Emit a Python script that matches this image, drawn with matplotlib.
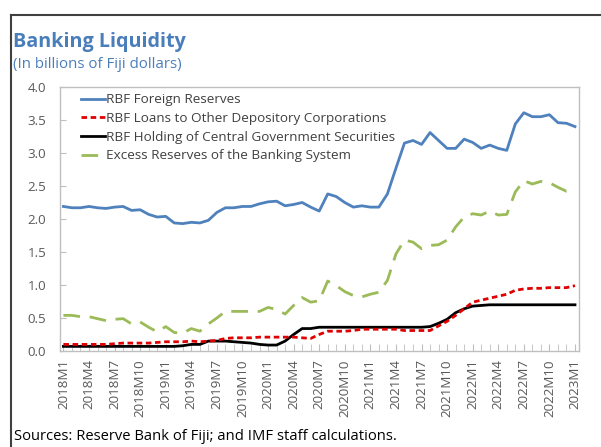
import matplotlib
matplotlib.use("Agg")
import matplotlib.pyplot as plt
from matplotlib.lines import Line2D

plt.rcParams['font.family'] = ['Open Sans', 'DejaVu Sans']

# ---- data ----
months = [f"{y}M{m}" for y in range(2018, 2023) for m in range(1, 13)] + ["2023M1"]

foreign_reserves = [2.19, 2.17, 2.17, 2.19, 2.17, 2.16, 2.18, 2.19, 2.13, 2.14,
                    2.07, 2.03, 2.04, 1.94, 1.93, 1.95, 1.94, 1.98, 2.10, 2.17,
                    2.17, 2.19, 2.19, 2.23, 2.26, 2.27, 2.20, 2.22, 2.25, 2.18,
                    2.12, 2.38, 2.34, 2.25, 2.18, 2.20, 2.18, 2.18, 2.38, 2.77,
                    3.15, 3.19, 3.13, 3.31, 3.19, 3.07, 3.07, 3.21, 3.16, 3.07,
                    3.12, 3.07, 3.04, 3.44, 3.61, 3.55, 3.55, 3.58, 3.46, 3.45,
                    3.40]

loans_odc = [0.10, 0.10, 0.10, 0.10, 0.10, 0.10, 0.11, 0.12, 0.12, 0.12,
             0.12, 0.13, 0.14, 0.14, 0.14, 0.15, 0.14, 0.15, 0.16, 0.19,
             0.20, 0.20, 0.20, 0.21, 0.21, 0.21, 0.21, 0.21, 0.20, 0.19,
             0.25, 0.30, 0.30, 0.30, 0.31, 0.33, 0.33, 0.33, 0.33, 0.33,
             0.31, 0.31, 0.31, 0.31, 0.38, 0.45, 0.54, 0.64, 0.74, 0.77,
             0.80, 0.83, 0.86, 0.92, 0.94, 0.95, 0.95, 0.96, 0.96, 0.96,
             0.99]

gov_securities = [0.07, 0.07, 0.07, 0.07, 0.07, 0.07, 0.07, 0.07, 0.07, 0.07,
                  0.07, 0.07, 0.07, 0.07, 0.08, 0.10, 0.10, 0.15, 0.15, 0.15,
                  0.14, 0.13, 0.12, 0.10, 0.09, 0.09, 0.15, 0.25, 0.34, 0.34,
                  0.36, 0.36, 0.36, 0.36, 0.36, 0.36, 0.36, 0.36, 0.36, 0.36,
                  0.36, 0.36, 0.36, 0.37, 0.42, 0.48, 0.58, 0.64, 0.68, 0.69,
                  0.70, 0.70, 0.70, 0.70, 0.70, 0.70, 0.70, 0.70, 0.70, 0.70,
                  0.70]

excess_reserves = [0.54, 0.54, 0.52, 0.52, 0.49, 0.46, 0.48, 0.49, 0.41, 0.44,
                   0.36, 0.29, 0.37, 0.28, 0.27, 0.34, 0.30, 0.41, 0.50, 0.60,
                   0.60, 0.60, 0.60, 0.60, 0.66, 0.63, 0.56, 0.69, 0.81, 0.74,
                   0.76, 1.06, 0.99, 0.90, 0.84, 0.82, 0.86, 0.89, 1.07, 1.47,
                   1.68, 1.65, 1.55, 1.60, 1.61, 1.68, 1.88, 2.03, 2.08, 2.06,
                   2.12, 2.06, 2.07, 2.41, 2.58, 2.53, 2.57, 2.55, 2.48, 2.42,
                   2.44]

series_names = ["RBF Foreign Reserves",
                "RBF Loans to Other Depository Corporations",
                "RBF Holding of Central Government Securities",
                "Excess Reserves of the Banking System"]

y_ticks = [0.0, 0.5, 1.0, 1.5, 2.0, 2.5, 3.0, 3.5, 4.0]

# ---- figure ----
W, H = 601, 447
fig = plt.figure(figsize=(W / 100, H / 100), dpi=100)

def fx(px):
    return px / W

def fy(py):
    return 1 - py / H

ax_l, ax_r, ax_t, ax_b = 60, 579, 87, 351
ax = fig.add_axes([fx(ax_l), fy(ax_b), fx(ax_r - ax_l), (ax_b - ax_t) / H])

x = list(range(len(months)))
blue = "#4F81BD"
red = "#E00000"
green = "#9BBB59"

ax.plot(x, foreign_reserves, color=blue, lw=2.0, solid_joinstyle='round')
ax.plot(x, excess_reserves, color=green, lw=2.0, dashes=(6, 3.5))
ax.plot(x, gov_securities, color="black", lw=2.0, solid_joinstyle='round')
ax.plot(x, loans_odc, color=red, lw=2.0, dashes=(2, 1.3))

ax.set_xlim(-0.4, 60.47)
ax.set_ylim(0, 4.0)
ax.set_yticks(y_ticks)
ax.set_yticklabels([f"{v:.1f}" for v in y_ticks])
ax.set_xticks(x, minor=True)
ax.set_xticks(x[::3])
ax.set_xticklabels(months[::3], rotation=90)

tick_color = "#595959"
ax.tick_params(axis='y', direction='in', length=4, color="#BFBFBF",
               labelsize=9.6, labelcolor=tick_color, pad=10)
ax.tick_params(axis='x', which='both', direction='in', length=5, color="#BFBFBF",
               labelsize=9.6, labelcolor=tick_color, pad=6)
for s in ax.spines.values():
    s.set_color("#BFBFBF")
    s.set_linewidth(1.0)

handles = [Line2D([], [], color=blue, lw=2.0),
           Line2D([], [], color=red, lw=2.0, dashes=(2, 1.3)),
           Line2D([], [], color="black", lw=2.0),
           Line2D([], [], color=green, lw=2.0, dashes=(6, 3.5))]
leg = ax.legend(handles, series_names, loc='upper left', frameon=False,
                fontsize=9.7, handlelength=1.75, handletextpad=0.05,
                labelspacing=0.42, borderaxespad=0.0,
                bbox_to_anchor=(fx(16) / fx(ax_r - ax_l), 1.0 - 1 / (ax_b - ax_t)))
for t in leg.get_texts():
    t.set_color("#404040")

# titles
fig.text(fx(13), fy(42), "Banking Liquidity", fontsize=14.2, fontweight='bold',
         color="#4A7EBB", va='center', ha='left')
fig.text(fx(13), fy(65), "(In billions of Fiji dollars)", fontsize=10.8,
         color="#4A7EBB", va='center', ha='left')
fig.text(fx(14), fy(437), "Sources: Reserve Bank of Fiji; and IMF staff calculations.",
         fontsize=10.6, color="black", va='center', ha='left')

# outer frame (top and left)
fig.add_artist(Line2D([fx(11), 1.0], [fy(15), fy(15)], color="#404040", lw=1.5,
                      transform=fig.transFigure))
fig.add_artist(Line2D([fx(11), fx(11)], [fy(15), 0.0], color="#404040", lw=1.5,
                      transform=fig.transFigure))

fig.savefig("out.png", dpi=100)
